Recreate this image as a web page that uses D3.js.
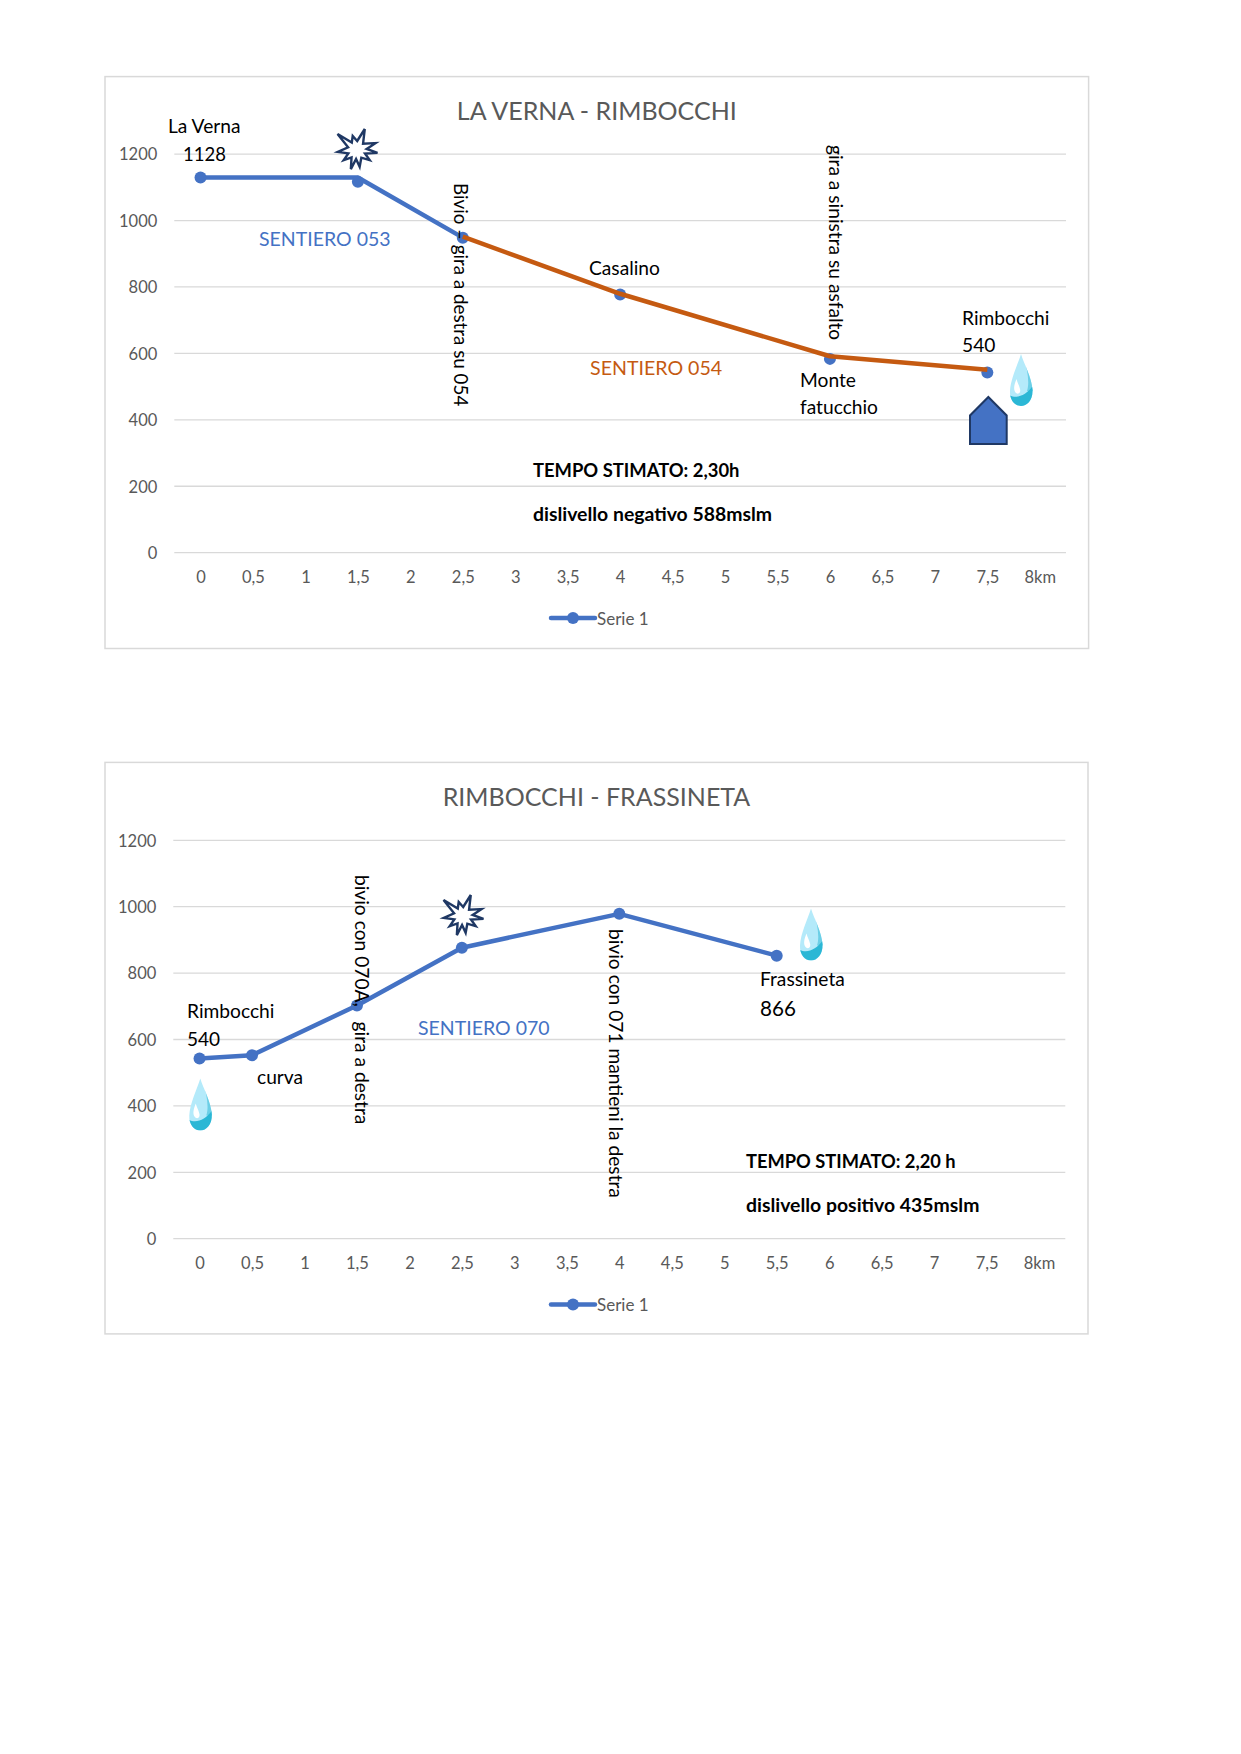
<!DOCTYPE html>
<html>
<head>
<meta charset="utf-8">
<title>La Verna - Rimbocchi - Frassineta</title>
<script src="https://d3js.org/d3.v7.min.js"></script>
<style>
  html, body { margin: 0; padding: 0; background: #fff; }
  svg text { font-family: Lato, "Open Sans", sans-serif; white-space: pre; }
</style>
</head>
<body>
<svg id="page" width="1241" height="1754"></svg>
<script>
// data
const kmLabels = ["0","0,5","1","1,5","2","2,5","3","3,5","4","4,5","5","5,5","6","6,5","7","7,5","8km"];
const elevTicks = [0,200,400,600,800,1000,1200];
const legendLabel = "Serie 1";

const title1 = "LA VERNA - RIMBOCCHI";
const markerKm1 = ["0","1,5","2,5","4","6","7,5"];
const markerElev1 = [1128,1115,947,776,582,541];
const blueKm1 = ["0","1,5","2,5"];
const blueElev1 = [1128,1128,947];
const orangeKm1 = ["2,5","4","6","7,5"];
const orangeElev1 = [950,778,590,549];

const title2 = "RIMBOCCHI - FRASSINETA";
const markerKm2 = ["0","0,5","1,5","2,5","4","5,5"];
const markerElev2 = [541,551,701,875,977,851];

const blue = "#4472C4", orange = "#C55A11", grey = "#595959", gridCol = "#D9D9D9";
const svg = d3.select("#page");

function drawChart(c) {
  const g = svg.append("g");
  g.append("rect").attr("x", c.left).attr("y", c.top)
    .attr("width", c.right - c.left).attr("height", c.bottom - c.top)
    .attr("fill", "#fff").attr("stroke", gridCol).attr("stroke-width", 1.5);

  const x = d3.scalePoint().domain(kmLabels).range([c.gridLeft, c.gridRight]).padding(0.5);
  const y = d3.scaleLinear().domain([0, 1200]).range([c.gridBottom, c.gridTop]);

  // gridlines + y labels
  const yAxis = g.append("g").attr("transform", `translate(${c.gridLeft},0)`)
    .call(d3.axisLeft(y).tickValues(elevTicks).tickFormat(d => d)
      .tickSize(-(c.gridRight - c.gridLeft)).tickPadding(17));
  yAxis.select(".domain").remove();
  yAxis.selectAll("line").attr("stroke", gridCol).attr("stroke-width", 1.3);
  yAxis.selectAll("text").attr("fill", grey).attr("dy", "0.38em").style("font-size", "16.5px");

  const xAxis = g.append("g").attr("transform", `translate(0,${c.gridBottom})`)
    .call(d3.axisBottom(x).tickSize(0).tickPadding(c.xPad));
  xAxis.select(".domain").remove();
  xAxis.selectAll("text").attr("fill", grey).style("font-size", "16.5px");

  g.append("text").attr("x", (c.left + c.right) / 2).attr("y", c.titleY)
    .attr("text-anchor", "middle").attr("fill", grey).style("font-size", "25px").text(c.title);

  const line = d3.line().x(d => x(d[0])).y(d => y(d[1]));

  // legend
  g.append("line").attr("x1", c.legendX).attr("x2", c.legendX + 44)
    .attr("y1", c.legendY).attr("y2", c.legendY)
    .attr("stroke", blue).attr("stroke-width", 4.5).attr("stroke-linecap", "round");
  g.append("circle").attr("cx", c.legendX + 22).attr("cy", c.legendY).attr("r", 6).attr("fill", blue);
  g.append("text").attr("x", c.legendX + 46).attr("y", c.legendY + 6.5)
    .attr("fill", grey).style("font-size", "17px").text(legendLabel);

  // series
  c.lines.filter(l => l.color === blue).forEach(l => {
    g.append("path").attr("d", line(d3.zip(l.km, l.elev))).attr("fill", "none")
      .attr("stroke", l.color).attr("stroke-width", 4.5).attr("stroke-linejoin", "round");
  });
  g.selectAll("circle.pt").data(d3.zip(c.markerKm, c.markerElev)).enter().append("circle")
    .attr("class", "pt").attr("cx", d => x(d[0])).attr("cy", d => y(d[1])).attr("r", 6).attr("fill", blue);
  c.lines.filter(l => l.color !== blue).forEach(l => {
    g.append("path").attr("d", line(d3.zip(l.km, l.elev))).attr("fill", "none")
      .attr("stroke", l.color).attr("stroke-width", 4.5).attr("stroke-linejoin", "round");
  });

  c.bursts.forEach(b => drawBurst(g, b[0], b[1]));
  c.drops.forEach((b, i) => drawDrop(g, b[0], b[1], c.id + i));
  if (c.house) drawHouse(g, c.house);

  c.notes.forEach(n => {
    const t = g.append("text").attr("fill", n.color || "#000")
      .style("font-size", (n.size || 19.2) + "px").text(n.text);
    if (n.bold) t.style("font-weight", 700);
    if (n.rot) t.attr("transform", `translate(${n.x},${n.y}) rotate(90)`);
    else t.attr("x", n.x).attr("y", n.y);
  });
}

// explosion shape, radii and angles going clockwise from top
const burstAngles = [3,21,45,70,84,98,113,128,149,170,184,197,215,232,248,264,287,310,327,344];
const burstRadii = [9,22.5,9,20,10,21,9,16.5,9,17,9,20,9,16.5,9,19,9,25,9,14.5];
function drawBurst(g, cx, cy) {
  const path = d3.lineRadial().curve(d3.curveLinearClosed)
    .angle(d => d[0] * Math.PI / 180).radius(d => d[1]);
  g.append("path").attr("transform", `translate(${cx},${cy})`)
    .attr("d", path(d3.zip(burstAngles, burstRadii)))
    .attr("fill", "#fff").attr("stroke", "#1F3864").attr("stroke-width", 2.4);
}

function drawDrop(g, cx, top, id) {
  const d = g.append("g").attr("transform", `translate(${cx},${top})`);
  const outline = "M0,0 C3,10 11,24 11.5,36 C12,46 6,52 0,52 C-6,52 -11.5,46 -11,37 C-10.5,25 -3,10 0,0 Z";
  const clip = d.append("clipPath").attr("id", "dropclip" + id);
  clip.append("path").attr("d", outline);
  d.append("path").attr("d", outline).attr("fill", "#B4EAFA");
  const inner = d.append("g").attr("clip-path", `url(#dropclip${id})`);
  inner.append("path").attr("d", "M3,3 C6,15 9,28 6,37 L13,37 L13,10 Z").attr("fill", "#6CCFE6");
  inner.append("path").attr("d", "M-13,40 C-6,46 6,42 13,30 L13,54 L-13,54 Z").attr("fill", "#2BB7D5");
  d.append("path").attr("d", "M-4.5,25 C-7,31 -8,36 -5,39 C-2,41 0,38 -1,35 C-2,31 -3.5,29 -4.5,25 Z").attr("fill", "#fff");
}

function drawHouse(g, h) {
  const mid = (h.x0 + h.x1) / 2;
  const pts = [[mid,h.top],[h.x1,h.shoulder],[h.x1,h.bottom],[h.x0,h.bottom],[h.x0,h.shoulder]];
  g.append("path").attr("d", d3.line()(pts) + "Z").attr("fill", blue)
    .attr("stroke", "#1F3864").attr("stroke-width", 2);
}

drawChart({
  id: "a", title: title1,
  left: 105, right: 1088.6, top: 76.6, bottom: 648.5,
  gridLeft: 174.3, gridRight: 1066, gridTop: 153.6, gridBottom: 552.2,
  titleY: 119.5, xPad: 19, legendX: 551, legendY: 618,
  markerKm: markerKm1, markerElev: markerElev1,
  lines: [{km: blueKm1, elev: blueElev1, color: blue}, {km: orangeKm1, elev: orangeElev1, color: orange}],
  bursts: [[356.7, 150]],
  drops: [[1021, 354]],
  house: {x0: 970, x1: 1006.7, top: 397, shoulder: 415.5, bottom: 444},
  notes: [
    {text: "La Verna", x: 168, y: 133},
    {text: "1128", x: 183, y: 160.5, size: 18.5},
    {text: "SENTIERO 053", x: 259, y: 245.6, size: 19.5, color: blue},
    {text: "Bivio – gira a destra su 054", x: 453.5, y: 183, size: 18.8, rot: true},
    {text: "Casalino", x: 589, y: 275},
    {text: "SENTIERO 054", x: 590, y: 374.5, size: 19.6, color: orange},
    {text: "gira a sinistra su asfalto", x: 829, y: 145, rot: true},
    {text: "Monte", x: 800, y: 387},
    {text: "fatucchio", x: 800, y: 414},
    {text: "Rimbocchi", x: 962, y: 325},
    {text: "540", x: 962, y: 352},
    {text: "TEMPO STIMATO: 2,30h", x: 533, y: 477, size: 18.4, bold: true},
    {text: "dislivello negativo 588mslm", x: 533, y: 521, size: 19.4, bold: true}
  ]
});

drawChart({
  id: "b", title: title2,
  left: 105, right: 1088, top: 762.4, bottom: 1333.9,
  gridLeft: 173.3, gridRight: 1065.3, gridTop: 839.8, gridBottom: 1238.2,
  titleY: 805.5, xPad: 19.5, legendX: 551, legendY: 1304.5,
  markerKm: markerKm2, markerElev: markerElev2,
  lines: [{km: markerKm2, elev: markerElev2, color: blue}],
  bursts: [[462.7, 916]],
  drops: [[200.3, 1078.5], [811, 908.5]],
  notes: [
    {text: "Rimbocchi", x: 187, y: 1018},
    {text: "540", x: 187, y: 1046, size: 19},
    {text: "curva", x: 257, y: 1083.5},
    {text: "bivio con 070A,   gira a destra", x: 354.5, y: 875, size: 19.2, rot: true},
    {text: "SENTIERO 070", x: 418, y: 1034.6, size: 19.5, color: blue},
    {text: "bivio con 071 mantieni la destra", x: 608.5, y: 929, rot: true},
    {text: "Frassineta", x: 760, y: 985.5},
    {text: "866", x: 760, y: 1015.5, size: 20.6},
    {text: "TEMPO STIMATO: 2,20 h", x: 746, y: 1167.5, size: 18.3, bold: true},
    {text: "dislivello positivo 435mslm", x: 746, y: 1211.5, size: 19.4, bold: true}
  ]
});
</script>
</body>
</html>
